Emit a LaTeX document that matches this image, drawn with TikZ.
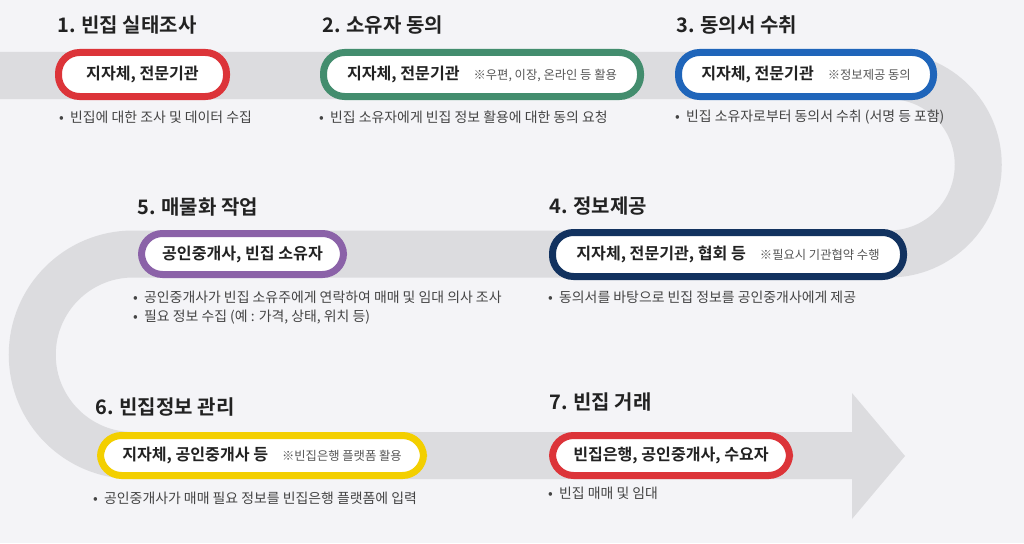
\documentclass[tikz,border=0pt]{standalone}
\usepackage{fontspec}
\setmainfont{Noto Sans CJK KR}[BoldFont={Noto Sans CJK KR Bold}]
\definecolor{bgc}{HTML}{F4F4F7}
\definecolor{bandc}{HTML}{DCDCDF}
\definecolor{redc}{HTML}{DC3439}
\definecolor{greenc}{HTML}{438D6E}
\definecolor{bluec}{HTML}{1F65BA}
\definecolor{navyc}{HTML}{12325F}
\definecolor{purplec}{HTML}{8B62A8}
\definecolor{yellowc}{HTML}{F3CF00}
\definecolor{titlec}{HTML}{222222}
\definecolor{descc}{HTML}{444444}
\definecolor{notec}{HTML}{555555}
\newcommand{\pnote}[1]{\hspace{14pt}{\fontsize{12.3}{14}\selectfont\mdseries\color{notec}#1}}
\tikzset{
  band/.style={draw=bandc, line width=47pt},
  pill/.style={draw=#1, line width=7pt, fill=white, rounded corners=21pt,
    inner sep=0pt, text=titlec, font=\fontsize{16.1}{18}\selectfont\bfseries},
  steptitle/.style={anchor=west, inner sep=0pt, text=titlec, font=\fontsize{20}{22}\selectfont\bfseries},
  desc/.style={anchor=west, inner sep=0pt, text=descc, font=\fontsize{13.9}{16}\selectfont},
}
\begin{document}
\begin{tikzpicture}[x=1pt,y=1pt]
\useasboundingbox (0,0) rectangle (1024,-543);
\fill[bgc] (0,0) rectangle (1024,-543);
\begin{scope}
\clip (0,0) rectangle (1024,-543);
\draw[band] (-10,-75.5) -- (889,-75.5) arc(90:-90:89.25) -- (133,-254) arc(90:270:100.75) -- (852,-455.5);
\fill[bandc] (852,-393) -- (905,-456) -- (852,-519) -- cycle;
\end{scope}

% titles
\node[steptitle] (t1) at (57,-25) {1. 빈집 실태조사};
\node[steptitle] (t2) at (322,-25) {2. 소유자 동의};
\node[steptitle] (t3) at (676,-25) {3. 동의서 수취};
\node[steptitle] (t4) at (549,-206) {4. 정보제공};
\node[steptitle] (t5) at (137,-207) {5. 매물화 작업};
\node[steptitle] (t6) at (95,-407) {6. 빈집정보 관리};
\node[steptitle] (t7) at (549,-402) {7. 빈집 거래};

% pills
\node[pill=redc, minimum width=168pt, minimum height=44pt] (p1) at (142.5,-74.5) {지자체, 전문기관};
\node[pill=greenc, minimum width=317pt, minimum height=44pt] (p2) at (482,-74.5) {지자체, 전문기관\pnote{※우편, 이장, 온라인 등 활용}};
\node[pill=bluec, minimum width=255pt, minimum height=44pt] (p3) at (806,-74.5) {지자체, 전문기관\pnote{※정보제공 동의}};
\node[pill=navyc, minimum width=351pt, minimum height=44pt] (p4) at (728,-254.5) {지자체, 전문기관, 협회 등\pnote{※필요시 기관협약 수행}};
\node[pill=purplec, minimum width=202pt, minimum height=41pt] (p5) at (242.5,-254) {공인중개사, 빈집 소유자};
\node[pill=yellowc, minimum width=323pt, minimum height=40pt] (p6) at (262,-455.5) {지자체, 공인중개사 등\pnote{※빈집은행 플랫폼 활용}};
\node[pill=redc, minimum width=237pt, minimum height=40pt] (p7) at (671,-455.5) {빈집은행, 공인중개사, 수요자};

% descriptions
\node[desc] (d1) at (59,-117) {•\ \ 빈집에 대한 조사 및 데이터 수집};
\node[desc] (d2) at (319,-117) {•\ \ 빈집 소유자에게 빈집 정보 활용에 대한 동의 요청};
\node[desc] (d3) at (675,-117) {•\ \ 빈집 소유자로부터 동의서 수취 (서명 등 포함)};
\node[desc] (d4) at (548,-297) {•\ \ 동의서를 바탕으로 빈집 정보를 공인중개사에게 제공};
\node[desc] (d5a) at (133,-297) {•\ \ 공인중개사가 빈집 소유주에게 연락하여 매매 및 임대 의사 조사};
\node[desc] (d5b) at (133,-317) {•\ \ 필요 정보 수집 (예 : 가격, 상태, 위치 등)};
\node[desc] (d6) at (93,-498) {•\ \ 공인중개사가 매매 필요 정보를 빈집은행 플랫폼에 입력};
\node[desc] (d7) at (548,-493) {•\ \ 빈집 매매 및 임대};
\end{tikzpicture}
\end{document}
